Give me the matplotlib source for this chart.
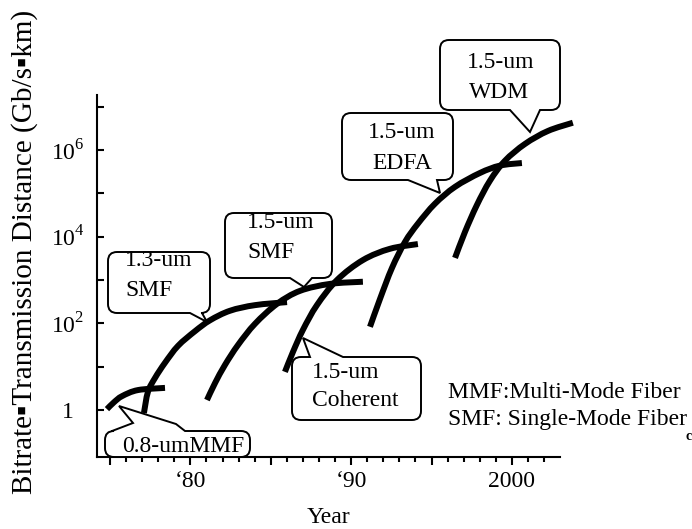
import numpy as np
import matplotlib
matplotlib.use("Agg")
import matplotlib.pyplot as plt
from matplotlib.path import Path
from matplotlib.patches import PathPatch
from matplotlib.ticker import FixedLocator, NullFormatter

plt.rcParams['font.family'] = ['Liberation Serif', 'DejaVu Sans']
plt.rcParams['mathtext.fontset'] = 'custom'
plt.rcParams['mathtext.rm'] = 'Liberation Serif'

# Curvas (año, log10 del producto B·L)
mmf_year = [1974.81, 1975.25, 1975.75, 1976.74, 1978.42]
mmf_log = [0.02, 0.18, 0.32, 0.46, 0.51]

smf13_year = [1977.11, 1977.36, 1977.80, 1978.42, 1979.23, 1980.29, 1981.22, 1982.46, 1984.02, 1986.01]
smf13_log = [-0.07, 0.42, 0.74, 1.09, 1.48, 1.82, 2.07, 2.29, 2.42, 2.49]

smf15_year = [1981.03, 1981.53, 1982.15, 1982.96, 1984.02, 1985.39, 1986.82, 1988.68, 1990.73]
smf15_log = [0.23, 0.62, 1.04, 1.50, 1.99, 2.45, 2.75, 2.91, 2.96]

coh_year = [1985.88, 1986.38, 1987.00, 1987.87, 1989.12, 1990.73, 1992.41, 1994.15]
coh_log = [0.88, 1.34, 1.85, 2.42, 3.00, 3.46, 3.72, 3.83]

edfa_year = [1991.17, 1991.79, 1992.54, 1993.35, 1994.15, 1995.21, 1996.46, 1998.01, 1999.25, 2000.62]
edfa_log = [1.92, 2.56, 3.28, 3.88, 4.30, 4.76, 5.15, 5.47, 5.64, 5.70]

wdm_year = [1996.46, 1997.08, 1997.82, 1998.63, 1999.56, 2000.81, 2002.24, 2003.79]
wdm_log = [3.51, 4.11, 4.73, 5.29, 5.75, 6.14, 6.44, 6.63]

curves = [(mmf_year, mmf_log), (smf13_year, smf13_log), (smf15_year, smf15_log),
          (coh_year, coh_log), (edfa_year, edfa_log), (wdm_year, wdm_log)]

xtick_years = [1980, 1990, 2000]
xtick_labels = ['\u201880', '\u201890', '2000']
ytick_exp = [0, 2, 4, 6]
ytick_labels = ['1', '10$^2$', '10$^4$', '10$^6$']

W, H = 692, 529
fig = plt.figure(figsize=(W / 100, H / 100), dpi=100)
ax = fig.add_axes([97 / W, 1 - 457 / H, (560 - 97) / W, (457 - 95) / H])


def smooth_path(xs, ls):
    # trazo suave (Catmull-Rom -> Bezier) que pasa por los puntos leídos
    p = np.column_stack([xs, ls]).astype(float)
    n = len(p)
    verts = [p[0]]
    codes = [Path.MOVETO]
    for i in range(n - 1):
        p0 = p[max(i - 1, 0)]
        p1, p2 = p[i], p[i + 1]
        p3 = p[min(i + 2, n - 1)]
        verts += [p1 + (p2 - p0) / 6, p2 - (p3 - p1) / 6, p2]
        codes += [Path.CURVE4] * 3
    verts = np.array(verts)
    verts[:, 1] = 10 ** verts[:, 1]
    return Path(verts, codes)


ax.set_yscale('log')
ax.set_xlim(1974.19, 2002.99)
ax.set_ylim(10 ** -1.085, 10 ** 7.27)

for yr, lg in curves:
    ax.add_patch(PathPatch(smooth_path(yr, lg), transform=ax.transData, fill=False,
                           edgecolor='black', lw=4.3, capstyle='butt', clip_on=False))

ax.spines['top'].set_visible(False)
ax.spines['right'].set_visible(False)
ax.spines['left'].set_linewidth(1.5)
ax.spines['bottom'].set_linewidth(1.5)

ax.xaxis.set_major_locator(FixedLocator(range(1975, 2001, 5)))
ax.xaxis.set_minor_locator(FixedLocator(range(1975, 2003)))
ax.set_xticklabels(['' if y not in xtick_years else xtick_labels[xtick_years.index(y)]
                    for y in range(1975, 2001, 5)])
ax.tick_params(axis='x', which='major', direction='out', length=6, width=1.5,
               labelsize=17, pad=4)
ax.tick_params(axis='x', which='minor', direction='out', length=3.5, width=1.5)

ax.yaxis.set_major_locator(FixedLocator([10.0 ** e for e in range(0, 8)]))
ax.yaxis.set_minor_locator(FixedLocator([]))
ax.yaxis.set_minor_formatter(NullFormatter())
ax.set_yticklabels([ytick_labels[ytick_exp.index(e)] if e in ytick_exp else ''
                    for e in range(0, 8)])
ax.tick_params(axis='y', which='major', direction='in', length=5, width=1.5,
               labelsize=17, pad=21)
for t in ax.get_yticklabels():
    t.set_horizontalalignment('center')

ax.set_xlabel('Year', fontsize=17, labelpad=11)
fig.text(25 / W, 1 - 252 / H, 'Bitrate\u25aaTransmission Distance (Gb/s\u25aakm)',
         rotation=90, va='center', ha='center', fontsize=21)


def px(x, y):
    return (x / W, 1 - y / H)


def bubble(x0, y0, x1, y1, edge, tail, r=9):
    v = [(x0 + r, y0)]
    c = [Path.MOVETO]
    if edge == 'top':
        v += tail
        c += [Path.LINETO] * len(tail)
    v += [(x1 - r, y0), (x1, y0), (x1, y0 + r)]
    c += [Path.LINETO, Path.CURVE3, Path.CURVE3]
    v += [(x1, y1 - r), (x1, y1), (x1 - r, y1)]
    c += [Path.LINETO, Path.CURVE3, Path.CURVE3]
    if edge == 'bottom':
        v += tail
        c += [Path.LINETO] * len(tail)
    v += [(x0 + r, y1), (x0, y1), (x0, y1 - r)]
    c += [Path.LINETO, Path.CURVE3, Path.CURVE3]
    v += [(x0, y0 + r), (x0, y0), (x0 + r, y0), (x0 + r, y0)]
    c += [Path.LINETO, Path.CURVE3, Path.CURVE3, Path.CLOSEPOLY]
    path = Path([px(*p) for p in v], c)
    fig.add_artist(PathPatch(path, transform=fig.transFigure, facecolor='white',
                             edgecolor='black', lw=1.4, zorder=3))


bubbles = [
    ((108, 252, 210, 313), 'bottom', [(202, 313), (207, 322), (190, 313)],
     [('1.3-um', 125, 260), ('SMF', 125, 290)], 'left'),
    ((225, 213, 332, 278), 'bottom', [(312, 278), (304, 287), (290, 278)],
     [('1.5-um', 247, 223), ('SMF', 247, 253)], 'left'),
    ((292, 357, 421, 420), 'top', [(310, 357), (303, 338), (343, 357)],
     [('1.5-um', 312, 372), ('Coherent', 312, 400)], 'left'),
    ((105, 431, 250, 457), 'top', [(112, 431), (133, 423), (119, 406), (176, 424), (185, 431)],
     [('0.8-umMMF', 122, 446)], 'left'),
    ((342, 113, 453, 180), 'bottom', [(437, 180), (440, 193), (408, 180)],
     [('1.5-um', 402, 133), ('EDFA', 402, 163)], 'center'),
    ((440, 40, 560, 110), 'bottom', [(540, 110), (530, 132), (510, 110)],
     [('1.5-um', 501, 62), ('WDM', 499, 93)], 'center'),
]

for (x0, y0, x1, y1), edge, tail, lines, ha in bubbles:
    bubble(x0, y0, x1, y1, edge, tail)
    for txt, tx, ty in lines:
        fig.text(*px(tx, ty), txt, ha=ha, va='center', fontsize=17, zorder=4)

fig.text(*px(448, 393), 'MMF:Multi-Mode Fiber', ha='left', va='center', fontsize=17)
fig.text(*px(448, 420), 'SMF: Single-Mode Fiber', ha='left', va='center', fontsize=17)
fig.text(*px(686, 436), 'c', ha='left', va='center', fontsize=10, fontweight='bold')

fig.savefig('out.png', dpi=100)
